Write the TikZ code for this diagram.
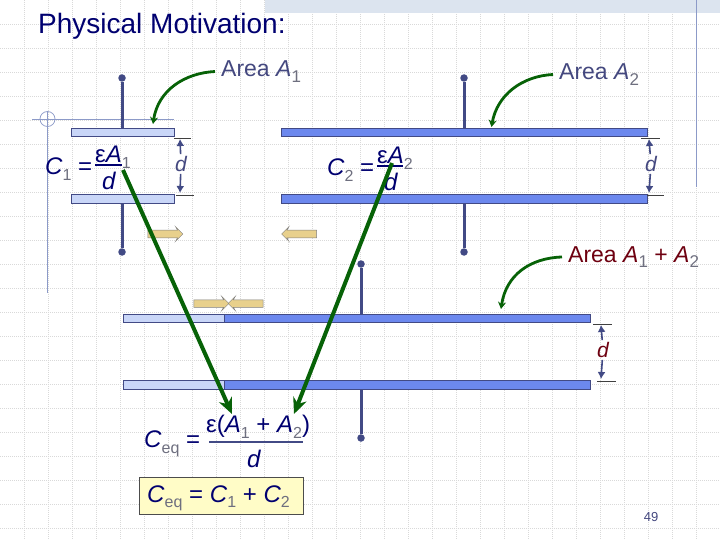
\documentclass[tikz,border=0pt]{standalone}
\usepackage{fontspec}
\setmainfont{Liberation Sans}
\usetikzlibrary{arrows.meta, positioning, shapes.arrows}
\definecolor{navytext}{HTML}{000070}
\definecolor{slatetext}{HTML}{44487F}
\definecolor{redtext}{HTML}{6E0010}
\definecolor{wireblue}{HTML}{424A85}
\definecolor{paleplate}{HTML}{C9D6F8}
\definecolor{blueplate}{HTML}{6C88EE}
\definecolor{greenarrow}{HTML}{076207}
\definecolor{guideblue}{HTML}{8C9AC8}
\definecolor{pushfill}{HTML}{E8D08C}
\definecolor{bandblue}{HTML}{DCE4EF}
\newcommand{\subtxt}[2][16]{\raisebox{-5.5pt}{\fontsize{#1}{#1}\selectfont\color{gray!70!slatetext}#2}}
\newcommand{\itl}[1]{\textit{#1}}

\begin{document}
\begin{tikzpicture}[
        x=1pt,
        y=-1pt,
        plate/.style={
          rectangle,
          draw=wireblue,
          line width=0.8pt,
          minimum height=8.5pt,
          inner sep=0pt
        },
        wire/.style={
          line width=3pt,
          wireblue
        },
        dot/.style={
          circle,
          fill=wireblue,
          minimum size=7.5pt,
          inner sep=0pt
        },
        tick/.style={
          line width=0.5pt,
          black!75
        },
        gaparrow/.style={
          -{Latex[length=7pt,width=8pt]},
          line width=1.6pt,
          wireblue
        },
        bigarrow/.style={
          -{Stealth[length=16pt,width=14pt]},
          line width=4pt,
          greenarrow
        },
        curvearrow/.style={
          -{Stealth[length=7pt,width=8pt]},
          line width=2.8pt,
          greenarrow
        },
        push/.style={
          single arrow,
          draw=black!50,
          fill=pushfill,
          line width=0.5pt,
          minimum height=35pt,
          single arrow head extend=3.5pt,
          single arrow head indent=2pt,
          inner xsep=0pt,
          inner ysep=3.5pt
        },
        areatext/.style={
          anchor=west,
          font=\fontsize{23}{25}\selectfont,
          text=slatetext,
          inner sep=6pt
        },
        eqtext/.style={
          font=\fontsize{24}{26}\selectfont,
          text=navytext,
          inner sep=0pt
        },
        dtext/.style={
          font=\fontsize{21}{23}\selectfont\itshape,
          text=slatetext,
          inner sep=2pt
        }
      ]

      % Background
      \useasboundingbox (0,0) rectangle (720,540);
      \fill[white] (0,0) rectangle (720,540);
      \foreach \x in {24,48,...,696} {
        \draw[black!15, line width=0.5pt, dash pattern=on 1pt off 1pt] (\x,0) -- (\x,540);
      }
      \foreach \y in {24,48,...,528} {
        \draw[black!15, line width=0.5pt, dash pattern=on 1pt off 1pt] (0,\y) -- (720,\y);
      }
      \fill[bandblue] (265,0) rectangle (720,13);

      % Guides
      \draw[guideblue, line width=0.7pt] (32,119) -- (174,119);
      \draw[guideblue, line width=0.7pt] (47.5,111) -- (47.5,293);
      \draw[guideblue, line width=0.7pt] (47.5,119) circle (7.5);
      \draw[guideblue, line width=0.7pt] (696.5,0) -- (696.5,187);

      % Title
      \node[anchor=west, font=\fontsize{28}{30}\selectfont, text=navytext, inner sep=0pt] (title) at (38,26) {Physical Motivation:};

      % Plates
      \node[plate, fill=paleplate, minimum width=103pt] (plateAtop) at (122.5,132.5) {};
      \node[plate, fill=paleplate, minimum width=103pt] (plateAbot) at (122.5,199) {};
      \node[plate, fill=blueplate, minimum width=366pt] (plateBtop) at (464,132.5) {};
      \node[plate, fill=blueplate, minimum width=366pt] (plateBbot) at (464,199) {};
      \node[plate, fill=paleplate, minimum width=101pt] (plateCtopL) at (173.5,318.5) {};
      \node[plate, fill=blueplate, minimum width=366pt] (plateCtopR) at (407,318.5) {};
      \node[plate, fill=paleplate, minimum width=101pt] (plateCbotL) at (173.5,385) {};
      \node[plate, fill=blueplate, minimum width=366pt] (plateCbotR) at (407,385) {};

      % Wires
      \node[dot] (dotAtop) at (122,78) {};
      \node[dot] (dotAbot) at (122,252) {};
      \node[dot] (dotBtop) at (464,78) {};
      \node[dot] (dotBbot) at (464,252) {};
      \node[dot] (dotCtop) at (361,264) {};
      \node[dot] (dotCbot) at (361,438) {};
      \draw[wire] (dotAtop) -- (dotAtop |- plateAtop.north);
      \draw[wire] (dotAbot) -- (dotAbot |- plateAbot.south);
      \draw[wire] (dotBtop) -- (dotBtop |- plateBtop.north);
      \draw[wire] (dotBbot) -- (dotBbot |- plateBbot.south);
      \draw[wire] (dotCtop) -- (dotCtop |- plateCtopR.north);
      \draw[wire] (dotCbot) -- (dotCbot |- plateCbotR.south);

      % Gaps
      \node[dtext] (gapA) at (181,164) {d};
      \node[dtext] (gapB) at (651,164) {d};
      \node[dtext, text=redtext] (gapC) at (603,350) {d};
      \coordinate (gapAtop) at (180,139);
      \coordinate (gapAbot) at (180,193);
      \coordinate (gapBtop) at (649,139);
      \coordinate (gapBbot) at (649,193);
      \coordinate (gapCtop) at (601,325);
      \coordinate (gapCbot) at (601,379);
      \draw[gaparrow] (gapA) -- (gapAtop);
      \draw[gaparrow] (gapA) -- (gapAbot);
      \draw[gaparrow] (gapB) -- (gapBtop);
      \draw[gaparrow] (gapB) -- (gapBbot);
      \draw[gaparrow] (gapC) -- (gapCtop);
      \draw[gaparrow] (gapC) -- (gapCbot);
      \draw[tick] (174,138.5) -- (191,138.5);
      \draw[tick] (176,195) -- (194,195);
      \draw[tick] (641,138.5) -- (660,138.5);
      \draw[tick] (647,195) -- (664,195);
      \draw[tick] (593,324.5) -- (612,324.5);
      \draw[tick] (597,381) -- (616,381);

      % Push arrows
      \node[push] (pushA) at (163.5,234) {};
      \node[push, shape border rotate=180] (pushB) at (301,234) {};
      \node[push] (pushC) at (209.5,303.5) {};
      \node[push, shape border rotate=180] (pushD) at (247.5,303.5) {};

      % Area labels
      \node[areatext] (areaA) at (215,71.5) {Area \itl{A}\subtxt[17]{1}};
      \node[areatext] (areaB) at (553,74.5) {Area \itl{A}\subtxt[17]{2}};
      \node[areatext, text=redtext] (areaC) at (562,257) {Area \itl{A}\subtxt[17]{1} + \itl{A}\subtxt[17]{2}};

      % Equations
      \node[eqtext, anchor=west] (eqA) at (45,169) {\itl{C}\subtxt{1} =};
      \node[eqtext, anchor=west] (numA) at (95,157) {ε\itl{A}\subtxt{1}};
      \node[eqtext] (denA) at (109,181) {\itl{d}};
      \node[eqtext, anchor=west] (eqB) at (327,170) {\itl{C}\subtxt{2} =};
      \node[eqtext, anchor=west] (numB) at (377,158) {ε\itl{A}\subtxt{2}};
      \node[eqtext] (denB) at (391,182) {\itl{d}};
      \draw[navytext, line width=1.2pt] (95,165) -- (122,165);
      \draw[navytext, line width=1.2pt] (377,166) -- (403,166);

      \node[eqtext, anchor=west] (eqC) at (144,444) {\itl{C}\subtxt{eq} =};
      \node[eqtext, anchor=west] (numC) at (206,427) {ε(\itl{A}\subtxt{1} + \itl{A}\subtxt{2})};
      \node[eqtext] (denC) at (254,459) {\itl{d}};
      \coordinate (barCl) at (209,442);
      \coordinate (barCr) at (303,442);
      \draw[wire, line width=2.4pt] (barCl) -- (barCr);

      \node[rectangle, draw=black!70, fill=yellow!22, line width=0.7pt, minimum width=164pt, minimum height=37pt] (sumC) at (221,495.5) {};
      \node[eqtext, anchor=west] (sumtext) at (147,498.5) {\itl{C}\subtxt{eq} = \itl{C}\subtxt{1} + \itl{C}\subtxt{2}};

      % Green arrows
      \coordinate (startA) at (123,170);
      \coordinate (startB) at (392,163);
      \coordinate (tipA) at (232,414);
      \coordinate (tipB) at (294,414);
      \draw[bigarrow] (startA) -- (tipA);
      \draw[bigarrow] (startB) -- (tipB);

      \coordinate (curveA) at (153,124);
      \coordinate (curveB) at (491.5,127);
      \coordinate (curveC) at (501,309);
      \draw[curvearrow] (areaA.west) .. controls (185,73) and (158,90) .. (curveA);
      \draw[curvearrow] (areaB.west) .. controls (522,76) and (497,95) .. (curveB);
      \draw[curvearrow] (areaC.west) .. controls (530,258) and (506,275) .. (curveC);

      % Page number
      \node[font=\fontsize{13}{15}\selectfont, text=slatetext, inner sep=0pt] (page) at (651,517) {49};

    \end{tikzpicture}
\end{document}
